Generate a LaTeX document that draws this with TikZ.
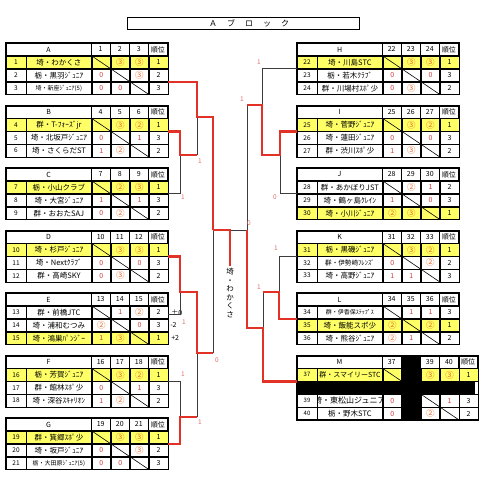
\documentclass[tikz,border=0pt]{standalone}
\usepackage{fontspec}
\setmainfont{Noto Sans CJK JP}
\usetikzlibrary{positioning}
\definecolor{rowyellow}{RGB}{255,255,102}
\definecolor{ptwin}{RGB}{236,104,36}
\definecolor{ptlose}{RGB}{214,64,64}
\definecolor{winred}{RGB}{226,50,40}
\definecolor{linegray}{RGB}{60,60,60}
\definecolor{setred}{RGB}{222,110,110}
\tikzset{
    cell/.style = {rectangle, draw, line width=0.6pt, inner sep=0pt, minimum height=12.3pt, font=\fontsize{7}{7}\selectfont},
    numcell/.style = {cell, minimum width=19.5pt, font=\fontsize{6.5}{6.5}\selectfont},
    namecell/.style = {cell, minimum width=65pt, font=\fontsize{7.5}{7.5}\selectfont},
    ptcell/.style = {cell, minimum width=18.5pt},
    headcell/.style = {cell, minimum width=84.5pt},
    frame/.style = {line width=1.1pt},
    winline/.style = {draw=winred, line width=2.4pt},
    loseline/.style = {draw=linegray, line width=0.8pt},
    setlabel/.style = {text=setred, font=\fontsize{6.5}{6.5}\selectfont, inner sep=0pt},
    diffnote/.style = {font=\fontsize{7}{7}\selectfont, inner sep=0pt, anchor=west}
}
\newcommand{\wpt}[1]{\textcolor{ptwin}{\fontsize{8.5}{8.5}\selectfont #1}}
\newcommand{\lpt}[1]{\textcolor{ptlose}{#1}}
\newcommand{\smallname}{\fontsize{6}{6}\selectfont}
\newcommand{\narrowname}{\fontsize{6.6}{6.6}\selectfont}

% header of a group table
\newcommand{\grouphead}[5]{%
    \node[headcell, anchor=north west] (g#2) at #1 {#2};
    \node[ptcell, right=0pt of g#2] (g#2a) {#3};
    \node[ptcell, right=0pt of g#2a] (g#2b) {#4};
    \node[ptcell, right=0pt of g#2b] (g#2c) {#5};
    \node[ptcell, right=0pt of g#2c] (g#2r) {順位};
}
% one team row: above, number, name, points x3, rank, fill
\newcommand{\teamrow}[8]{%
    \node[numcell, fill=#8, anchor=north west] (n#2) at (#1.south west) {#2};
    \node[namecell, fill=#8, right=0pt of n#2] (t#2) {#3};
    \node[ptcell, fill=#8, right=0pt of t#2] (s#2a) {#4};
    \node[ptcell, fill=#8, right=0pt of s#2a] (s#2b) {#5};
    \node[ptcell, fill=#8, right=0pt of s#2b] (s#2c) {#6};
    \node[ptcell, fill=#8, right=0pt of s#2c] (r#2) {#7};
}
% row of group M (one column blacked out)
\newcommand{\teamrowfour}[8]{%
    \node[numcell, fill=#8, anchor=north west, font=\fontsize{6}{6}\selectfont] (n#2) at (#1.south west) {#2};
    \node[namecell, fill=#8, right=0pt of n#2] (t#2) {#3};
    \node[ptcell, fill=#8, right=0pt of t#2] (s#2a) {#4};
    \node[ptcell, fill=black, right=0pt of s#2a] (s#2b) {};
    \node[ptcell, fill=#8, right=0pt of s#2b] (s#2c) {#5};
    \node[ptcell, fill=#8, right=0pt of s#2c] (s#2d) {#6};
    \node[ptcell, fill=#8, right=0pt of s#2d] (r#2) {#7};
}

\begin{document}
\begin{tikzpicture}[x=1pt, y=-1pt]
\useasboundingbox (0,0) rectangle (480,487);

% Title
\node[draw, line width=0.8pt, minimum width=232pt, minimum height=12pt, inner sep=0pt, font=\fontsize{8}{8}\selectfont] (title) at (243,23)
    {\hspace{12pt}Ａ\hspace{10pt}ブ\hspace{10pt}ロ\hspace{10pt}ッ\hspace{10pt}ク};

% Left groups
\grouphead{(6,43)}{A}{1}{2}{3}
\teamrow{gA}{1}{埼・わかくさ}{}{\wpt{③}}{\wpt{③}}{1}{rowyellow}
\teamrow{n1}{2}{栃・黒羽ｼﾞｭﾆｱ}{\lpt{0}}{}{\wpt{③}}{2}{white}
\teamrow{n2}{3}{\smallname 埼・新座ｼﾞｭﾆｱ(5)}{\lpt{0}}{\lpt{0}}{}{3}{white}

\grouphead{(6,105.5)}{B}{4}{5}{6}
\teamrow{gB}{4}{群・T-ﾌｫｰｽﾞjr}{}{\wpt{③}}{\wpt{②}}{1}{rowyellow}
\teamrow{n4}{5}{埼・北坂戸ｼﾞｭﾆｱ}{\lpt{0}}{}{\lpt{1}}{3}{white}
\teamrow{n5}{6}{埼・さくらだST}{\lpt{1}}{\wpt{②}}{}{2}{white}

\grouphead{(6,168)}{C}{7}{8}{9}
\teamrow{gC}{7}{栃・小山クラブ}{}{\wpt{②}}{\wpt{③}}{1}{rowyellow}
\teamrow{n7}{8}{埼・大宮ｼﾞｭﾆｱ}{\lpt{1}}{}{\lpt{1}}{3}{white}
\teamrow{n8}{9}{群・おおたSAJ}{\lpt{0}}{\wpt{②}}{}{2}{white}

\grouphead{(6,230.5)}{D}{10}{11}{12}
\teamrow{gD}{10}{埼・杉戸ｼﾞｭﾆｱ}{}{\wpt{③}}{\wpt{③}}{1}{rowyellow}
\teamrow{n10}{11}{埼・Nextｸﾗﾌﾞ}{\lpt{0}}{}{\lpt{0}}{3}{white}
\teamrow{n11}{12}{群・高崎SKY}{\lpt{0}}{\wpt{③}}{}{2}{white}

\grouphead{(6,293)}{E}{13}{14}{15}
\teamrow{gE}{13}{群・前橋JTC}{}{\lpt{1}}{\wpt{②}}{2}{white}
\teamrow{n13}{14}{埼・浦和むつみ}{\wpt{②}}{}{\lpt{0}}{3}{white}
\teamrow{n14}{15}{埼・鴻巣ﾊﾟﾝｼﾞｰ}{\lpt{1}}{\wpt{③}}{}{1}{rowyellow}

\grouphead{(6,355.5)}{F}{16}{17}{18}
\teamrow{gF}{16}{栃・芳賀ｼﾞｭﾆｱ}{}{\wpt{③}}{\wpt{②}}{1}{rowyellow}
\teamrow{n16}{17}{群・館林ｽﾎﾟ少}{\lpt{0}}{}{\lpt{1}}{3}{white}
\teamrow{n17}{18}{埼・深谷ｽｷｬﾘｵﾝ}{\lpt{1}}{\wpt{②}}{}{2}{white}

\grouphead{(6,418)}{G}{19}{20}{21}
\teamrow{gG}{19}{群・箕郷ｽﾎﾟ少}{}{\wpt{③}}{\wpt{③}}{1}{rowyellow}
\teamrow{n19}{20}{埼・坂戸ｼﾞｭﾆｱ}{\lpt{0}}{}{\wpt{③}}{2}{white}
\teamrow{n20}{21}{\smallname 栃・大田原ｼﾞｭﾆｱ(5)}{\lpt{0}}{\lpt{0}}{}{3}{white}

% Right groups
\grouphead{(297,43)}{H}{22}{23}{24}
\teamrow{gH}{22}{埼・川島STC}{}{\wpt{③}}{\wpt{③}}{1}{rowyellow}
\teamrow{n22}{23}{栃・若木ｸﾗﾌﾞ}{\lpt{0}}{}{\lpt{0}}{3}{white}
\teamrow{n23}{24}{群・川場村ｽﾎﾟ少}{\lpt{0}}{\wpt{③}}{}{2}{white}

\grouphead{(297,105.5)}{I}{25}{26}{27}
\teamrow{gI}{25}{埼・菅野ｼﾞｭﾆｱ}{}{\wpt{③}}{\wpt{②}}{1}{rowyellow}
\teamrow{n25}{26}{埼・蓮田ｼﾞｭﾆｱ}{\lpt{0}}{}{\lpt{0}}{3}{white}
\teamrow{n26}{27}{群・渋川ｽﾎﾟ少}{\lpt{1}}{\wpt{③}}{}{2}{white}

\grouphead{(297,168)}{J}{28}{29}{30}
\teamrow{gJ}{28}{群・あかぼりJST}{}{\wpt{②}}{\lpt{1}}{2}{white}
\teamrow{n28}{29}{埼・鶴ヶ島ｸﾚｲﾝ}{\lpt{1}}{}{\lpt{0}}{3}{white}
\teamrow{n29}{30}{埼・小川ｼﾞｭﾆｱ}{\wpt{②}}{\wpt{③}}{}{1}{rowyellow}

\grouphead{(297,230.5)}{K}{31}{32}{33}
\teamrow{gK}{31}{栃・黒磯ｼﾞｭﾆｱ}{}{\wpt{③}}{\wpt{②}}{1}{rowyellow}
\teamrow{n31}{32}{\narrowname 群・伊勢崎ﾌﾚﾝｽﾞ}{\lpt{0}}{}{\wpt{②}}{2}{white}
\teamrow{n32}{33}{埼・高野ｼﾞｭﾆｱ}{\lpt{1}}{\lpt{1}}{}{3}{white}

\grouphead{(297,293)}{L}{34}{35}{36}
\teamrow{gL}{34}{\smallname 群・伊香保ｽﾃｯﾌﾟｽ}{}{\lpt{1}}{\lpt{1}}{3}{white}
\teamrow{n34}{35}{埼・飯能スポ少}{\wpt{②}}{}{\wpt{②}}{1}{rowyellow}
\teamrow{n35}{36}{埼・熊谷ｼﾞｭﾆｱ}{\wpt{②}}{\lpt{1}}{}{2}{white}

% Group M
\node[headcell, anchor=north west] (gM) at (297,355.5) {M};
\node[ptcell, right=0pt of gM] (gMa) {37};
\node[ptcell, fill=black, right=0pt of gMa] (gMb) {};
\node[ptcell, right=0pt of gMb] (gMc) {39};
\node[ptcell, right=0pt of gMc] (gMd) {40};
\node[ptcell, right=0pt of gMd] (gMr) {順位};
\teamrowfour{gM}{37}{\fontsize{7}{7}\selectfont 群・スマイリーSTC}{}{\wpt{③}}{\wpt{③}}{1}{rowyellow}
\node[cell, fill=black, minimum width=177pt, anchor=north west] (n38) at (n37.south west) {};
\teamrowfour{n38}{39}{}{\lpt{0}}{}{\lpt{1}}{3}{white}
\teamrowfour{n39}{40}{栃・野木STC}{\lpt{0}}{\wpt{②}}{}{2}{white}
\begin{scope}
    \clip (t39.north west) rectangle (t39.south east);
    \node[font=\fontsize{8}{8}\selectfont] (t39txt) at (t39) {埼・東松山ジュニア};
\end{scope}

% Diagonals and frames
\foreach \p/\q in {1/3,4/6,7/9,10/12,13/15,16/18,19/21,22/24,25/27,28/30,31/33,34/36}
    \draw[line width=0.6pt] (s\p a.north west) -- (s\q c.south east);
\draw[line width=0.6pt] (s37a.north west) -- (s37a.south east);
\draw[line width=0.6pt] (s39c.north west) -- (s40d.south east);
\foreach \g/\r in {A/3,B/6,C/9,D/12,E/15,F/18,G/21,H/24,I/27,J/30,K/33,L/36}
    \draw[frame] (g\g.north west) rectangle (r\r.south east);
\draw[frame] (gM.north west) rectangle (r40.south east);

% Goal difference of group E
\node[diffnote] (d13) at ([xshift=3pt]r13.east) {±0};
\node[diffnote] (d14) at ([xshift=2pt]r14.east) {-2};
\node[diffnote] (d15) at ([xshift=3pt]r15.east) {+2};

% Winner
\node[font=\fontsize{7.5}{8.6}\selectfont, align=center, inner sep=0pt, anchor=north] (champ) at (230,268) {埼\\・\\わ\\か\\く\\さ};

% Bracket points
\coordinate (jBC) at (180,155);
\coordinate (jBCo) at (197,155);
\coordinate (jA) at (197,117);
\coordinate (jL) at (213,230);
\coordinate (jF) at (230,230);
\coordinate (jDE) at (180,292);
\coordinate (jDEo) at (197,292);
\coordinate (jDG) at (197,353);
\coordinate (jLo) at (213,353);
\coordinate (jFG) at (180,417);
\coordinate (jFGo) at (197,417);
\coordinate (jHI) at (262,105);
\coordinate (jHIo) at (247,105);
\coordinate (jIJ) at (280,155);
\coordinate (jIJo) at (262,155);
\coordinate (jR) at (247,230);
\coordinate (jKL) at (279,292);
\coordinate (jKLo) at (263,292);
\coordinate (jLM) at (263,328);
\coordinate (jLMo) at (247,328);

% Lost matches
\draw[loseline] (r7.south east) -| (jBC);
\draw[loseline] (jBCo) -- (jA);
\draw[loseline] ([yshift=4pt]r13.south east) -| (jDE);
\draw[loseline] (r16.south east) -| (jFG);
\draw[loseline] (jFGo) -- (jDG);
\draw[loseline] (jLo) -- (jL);
\draw[loseline] (n22.south west) -| (jHI);
\draw[loseline] (n28.south west) -| (jIJ);
\draw[loseline] (jHIo) -- (jR) -- (jF);
\draw[loseline] (n31.south west) -| (jKL);
\draw[loseline] (jKLo) -- (jLM);

% Won matches
\draw[winline] (r2.south east) -| (jA) -| (jL);
\draw[winline] (r4.south east) -| (jBC) -- (jBCo);
\draw[winline] (r10.south east) -| (jDE) -- (jDEo) -- (jDG) -- (jLo);
\draw[winline] (r19.south east) -| (jFG) -- (jFGo);
\draw[winline] (n25.south west) -| (jIJ) -- (jIJo) -- (jHI) -- (jHIo);
\draw[winline] (n34.south west) -| (jKL) -- (jKLo);
\draw[winline] (n37.south west) -| (jLM) -- (jLMo) -- (jR);
\draw[winline] (jL) -- (jF) -- ([yshift=2pt]champ.north);

% Set scores
\node[setlabel] (mB) at (200,161) {1};
\node[setlabel] (mC) at (183,197) {1};
\node[setlabel] (mE) at (184,322) {1};
\node[setlabel] (mD) at (217,360) {0};
\node[setlabel] (mF) at (183,374) {1};
\node[setlabel] (mG) at (200,422) {1};
\node[setlabel] (mH) at (259,62) {1};
\node[setlabel] (mI) at (242,99) {1};
\node[setlabel] (mJ) at (275,197) {0};
\node[setlabel] (mM) at (249,223) {0};
\node[setlabel] (mK) at (276,248) {1};
\node[setlabel] (mL) at (259,287) {1};

\end{tikzpicture}
\end{document}
